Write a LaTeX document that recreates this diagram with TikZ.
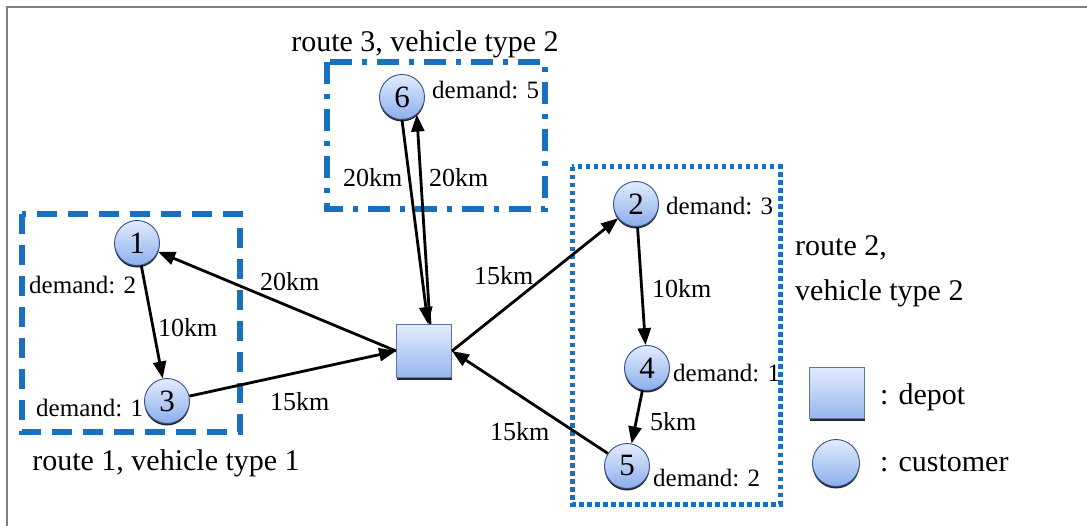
\documentclass[tikz,border=0pt]{standalone}
\usepackage{fontspec}
\setmainfont{Liberation Serif}
\newfontfamily\labelfont{Liberation Serif}
\usetikzlibrary{arrows.meta,shadows}
\definecolor{routeblue}{RGB}{24,112,192}
\definecolor{nodeedge}{RGB}{52,82,140}
\definecolor{nodetop}{RGB}{226,236,253}
\definecolor{nodebot}{RGB}{140,174,236}
\tikzset{
  customer/.style={circle, minimum size=45pt, inner sep=0pt, draw=nodeedge,
    line width=0.9pt, top color=nodetop, bottom color=nodebot,
    drop shadow={shadow xshift=0pt, shadow yshift=-2pt, opacity=1, fill=black!85},
    font=\labelfont\fontsize{31}{31}\selectfont},
  depotbox/.style={rectangle, minimum width=55pt, minimum height=53pt, inner sep=0pt,
    draw=nodeedge!80, line width=0.9pt, top color=nodetop, bottom color=nodebot!90,
    drop shadow={shadow xshift=0pt, shadow yshift=-2.5pt, opacity=1, fill=black!85}},
  link/.style={-{Triangle[length=17pt,width=13pt]}, line width=2.8pt},
  lbl/.style={font=\labelfont\fontsize{25}{25}\selectfont, inner sep=0pt, anchor=west},
  kmlbl/.style={font=\labelfont\fontsize{26}{26}\selectfont, inner sep=0pt, anchor=west},
  biglbl/.style={font=\labelfont\fontsize{30}{30}\selectfont, inner sep=0pt},
  dashbox/.style={draw=routeblue, line width=5.5pt, dash pattern=on 20pt off 11pt},
  dashdotbox/.style={draw=routeblue, line width=5.5pt, dash pattern=on 22pt off 10pt on 5pt off 10pt},
  dotbox/.style={draw=routeblue, line width=5pt, dash pattern=on 4.5pt off 3.5pt}
}
\begin{document}
\begin{tikzpicture}[x=1pt, y=-1pt]
\useasboundingbox (0,0) rectangle (1087,526);
% page frame (top and left rules)
\draw[gray, line width=1.6pt] (7,526) -- (7,7) -- (1087,7);

% route boxes
\draw[dashbox] (22,214) rectangle (240,432);
\draw[dashdotbox] (327,62) rectangle (545,209);
\draw[dotbox] (572,167) rectangle (780,504);

% route captions
\node[biglbl] (r3cap) at (425,44) {route 3, vehicle type 2};
\node[biglbl] (r1cap) at (166,463) {route 1, vehicle type 1};
\node[biglbl, anchor=west] (r2capa) at (795,248) {route 2,};
\node[biglbl, anchor=west] (r2capb) at (795,293) {vehicle type 2};

% depot and customers
\node[depotbox] (dep) at (424,351) {};
\node[customer] (n1) at (137,243) {1};
\node[customer] (n3) at (167,401) {3};
\node[customer] (n6) at (402,97) {6};
\node[customer] (n2) at (636,204) {2};
\node[customer] (n4) at (647,368) {4};
\node[customer] (n5) at (627,466) {5};

% demands
\node[lbl] (dm1) at (29,285) {demand: 2};
\node[lbl] (dm3) at (36,408) {demand: 1};
\node[lbl] (dm6) at (432,90) {demand: 5};
\node[lbl] (dm2) at (666,206) {demand: 3};
\node[lbl] (dm4) at (673,373) {demand: 1};
\node[lbl] (dm5) at (653,478) {demand: 2};

% route 1
\draw[link] (dep.west) -- (n1);
\draw[link] (n1) -- (n3);
\draw[link] (n3) -- (dep.west);
% route 3
\draw[link] (n6.south) -- ([xshift=4pt]dep.north);
\draw[link] ([xshift=6pt]dep.north) -- (n6.-50);
% route 2
\draw[link] (dep.east) -- (n2);
\draw[link] (n2) -- (n4);
\draw[link] (n4) -- (n5);
\draw[link] (n5) -- (dep.east);

% distances
\node[kmlbl] (k13) at (158,328) {10km};
\node[kmlbl] (kd1) at (260,282) {20km};
\node[kmlbl] (k3d) at (270,402) {15km};
\node[kmlbl] (k6d) at (343,178) {20km};
\node[kmlbl] (kd6) at (429,178) {20km};
\node[kmlbl] (kd2) at (474,276) {15km};
\node[kmlbl] (k5d) at (490,432) {15km};
\node[kmlbl] (k24) at (652,289) {10km};
\node[kmlbl] (k45) at (650,422) {5km};

% legend
\node[depotbox, minimum height=51pt] (lgdep) at (837,393) {};
\node[customer, minimum size=47pt] (lgcus) at (836,463) {};
\node[biglbl, anchor=west] (lgdeptxt) at (880,397) {: depot};
\node[biglbl, anchor=west] (lgcustxt) at (880,463) {: customer};
\end{tikzpicture}
\end{document}
